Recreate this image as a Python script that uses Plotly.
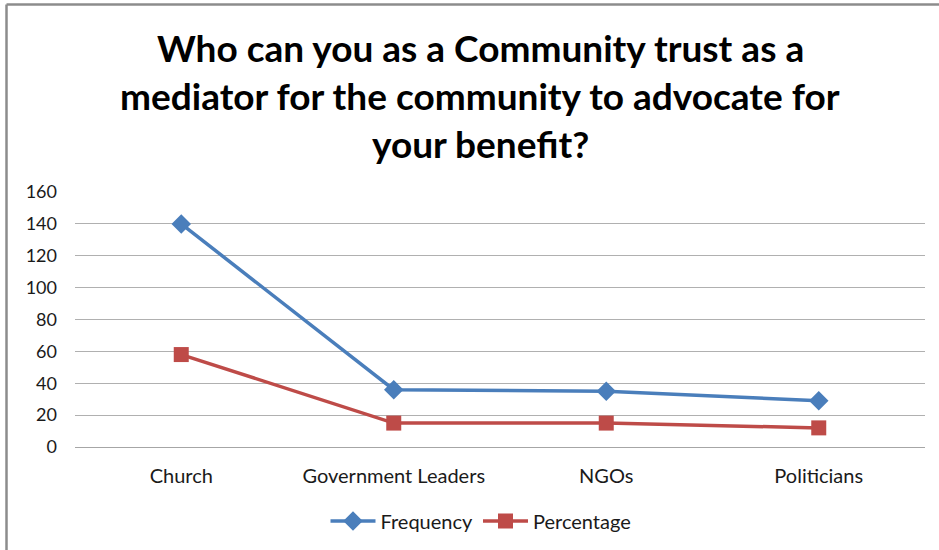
import plotly.graph_objects as go

categories = ["Church", "Government Leaders", "NGOs", "Politicians"]
frequency = [140, 36, 35, 29]
percentage = [58, 15, 15, 12]
y_ticks = [0, 20, 40, 60, 80, 100, 120, 140, 160]

W, H = 939, 550
L, R, T, B = 75, 14, 192, 103
pw, ph = W - L - R, H - T - B


def px_x(px):
    return (px - L) / pw


def px_y(py):
    return (H - B - py) / ph


fig = go.Figure()
fig.add_trace(go.Scatter(
    x=categories, y=frequency, name="Frequency", mode="lines+markers",
    line=dict(color="#4A7EBB", width=3.5),
    marker=dict(symbol="diamond", size=15, color="#4A7EBB"),
))
fig.add_trace(go.Scatter(
    x=categories, y=percentage, name="Percentage", mode="lines+markers",
    line=dict(color="#BE4B48", width=3.5),
    marker=dict(symbol="square", size=15, color="#BE4B48"),
))

font_family = "Lato, Carlito, Calibri, sans-serif"

fig.update_layout(
    width=W, height=H,
    margin=dict(l=L, r=R, t=T, b=B, autoexpand=False),
    paper_bgcolor="white", plot_bgcolor="white",
    font=dict(family=font_family, size=18, color="#1a1a1a"),
    showlegend=True,
    legend=dict(
        orientation="h", x=px_x(481), xanchor="center",
        y=px_y(521), yanchor="middle",
        font=dict(size=20, family=font_family, color="#1a1a1a"),
        itemwidth=45,
    ),
    xaxis=dict(
        type="category", range=[-0.5, 3.5],
        showgrid=False, showline=True, linecolor="#A6A6A6", linewidth=1,
        ticks="", tickfont=dict(size=20), ticklabelstandoff=11,
    ),
    yaxis=dict(
        range=[0, 160], tickvals=y_ticks,
        showgrid=True, gridcolor="#B0B0B0", gridwidth=1,
        zeroline=False, showline=False, ticks="",
        tickfont=dict(size=18), ticklabelstandoff=17,
    ),
)

title_lines = [
    "Who can you as a Community trust as a",
    "mediator for the community to advocate for",
    "your benefit?",
]
for line, cy in zip(title_lines, [47, 95, 143]):
    fig.add_annotation(
        text=f"<b>{line}</b>", x=px_x(480), y=px_y(cy),
        xref="paper", yref="paper", xanchor="center", yanchor="middle",
        showarrow=False, font=dict(size=37, family=font_family, color="#000000"),
    )

# outer chart frame (top and left edges visible)
frame = dict(type="line", xref="paper", yref="paper",
             line=dict(color="#8C8C8C", width=2.5))
fig.add_shape(**frame, x0=px_x(6.5), x1=px_x(960), y0=px_y(4.5), y1=px_y(4.5))
fig.add_shape(**frame, x0=px_x(6.5), x1=px_x(6.5), y0=px_y(4.5), y1=px_y(570))

fig.write_html("out.html")
